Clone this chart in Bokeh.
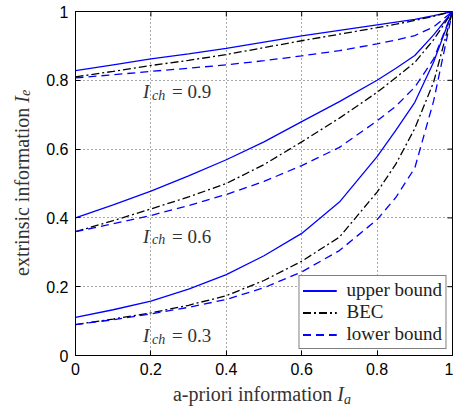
import math
from bokeh.plotting import figure
from bokeh.layouts import column, row
from bokeh.models import Range1d, Legend, LegendItem, FixedTicker, Div
from bokeh.core.properties import value
from bokeh.embed import file_html
from bokeh.resources import INLINE

# ---------------- data ----------------
x_apriori = [0, 0.1, 0.2, 0.3, 0.4, 0.5, 0.6, 0.7, 0.8, 0.85, 0.9, 0.95, 1.0]

upper_09 = [0.828, 0.845, 0.862, 0.877, 0.893, 0.911, 0.929, 0.945, 0.961, 0.969, 0.977, 0.988, 1.0]
bec_09   = [0.810, 0.826, 0.843, 0.858, 0.875, 0.895, 0.915, 0.934, 0.953, 0.963, 0.974, 0.986, 1.0]
lower_09 = [0.807, 0.816, 0.826, 0.835, 0.845, 0.857, 0.871, 0.886, 0.906, 0.917, 0.930, 0.955, 1.0]

upper_06 = [0.400, 0.438, 0.478, 0.522, 0.569, 0.621, 0.680, 0.738, 0.800, 0.835, 0.872, 0.932, 1.0]
bec_06   = [0.360, 0.392, 0.426, 0.461, 0.500, 0.555, 0.621, 0.690, 0.765, 0.808, 0.852, 0.918, 1.0]
lower_06 = [0.360, 0.383, 0.407, 0.436, 0.468, 0.506, 0.552, 0.605, 0.682, 0.725, 0.780, 0.862, 1.0]

upper_03 = [0.111, 0.133, 0.158, 0.193, 0.235, 0.290, 0.355, 0.446, 0.578, 0.655, 0.736, 0.853, 1.0]
bec_03   = [0.090, 0.106, 0.124, 0.146, 0.174, 0.218, 0.274, 0.344, 0.475, 0.557, 0.660, 0.795, 1.0]
lower_03 = [0.090, 0.104, 0.121, 0.140, 0.163, 0.197, 0.243, 0.305, 0.395, 0.460, 0.545, 0.740, 1.0]

ich_values = ["0.9", "0.6", "0.3"]
series_names = ["upper bound", "BEC", "lower bound"]

tick_values = [0, 0.2, 0.4, 0.6, 0.8, 1]
tick_labels = ["0", "0.2", "0.4", "0.6", "0.8", "1"]

x_label_main, x_label_sym, x_label_sub = "a-priori information", "I", "a"
y_label_main, y_label_sym, y_label_sub = "extrinsic information", "I", "e"

# ---------------- styling / layout ----------------
SERIF = "Liberation Serif"
SANS = "Liberation Sans"
BLUE = "#0000ff"
LW = 1.3
TXT = "#333333"

YLAB_W = 43          # width of the rotated y label strip
XLAB_H = 28          # height of the x label strip
FIG_W = 453 - YLAB_W
FIG_H = 407 - XLAB_H

p = figure(width=FIG_W, height=FIG_H, x_range=Range1d(0, 1), y_range=Range1d(0, 1),
           output_backend="svg", toolbar_location=None,
           min_border_left=72 - YLAB_W, min_border_right=1, min_border_top=11,
           min_border_bottom=FIG_H - 355)
p.background_fill_color = "white"
p.border_fill_color = "white"
p.outline_line_color = "black"
p.outline_line_width = 1

ticker = FixedTicker(ticks=tick_values)
overrides = dict(zip(tick_values, tick_labels))
for ax in (p.xaxis[0], p.yaxis[0]):
    ax.ticker = ticker
    ax.major_label_overrides = overrides
    ax.major_tick_in = 5
    ax.major_tick_out = 0
    ax.minor_tick_line_color = None
    ax.axis_line_color = "black"
    ax.major_tick_line_color = "black"
    ax.major_label_text_font = SANS
    ax.major_label_text_font_size = "16px"
    ax.major_label_text_color = "black"
    ax.major_label_standoff = 7

for g in (p.xgrid[0], p.ygrid[0]):
    g.ticker = ticker
    g.grid_line_color = "#555555"
    g.grid_line_dash = "1 3"
    g.grid_line_width = 1

# inward tick marks on the top and right edges of the box
n = len(tick_values)
p.ray(x=[1] * n, y=tick_values, length=5, length_units="screen", angle=math.pi,
      line_color="black", line_width=1)
p.ray(x=tick_values, y=[1] * n, length=5, length_units="screen", angle=-math.pi / 2,
      line_color="black", line_width=1)

# ---------------- curves ----------------
groups = [(upper_09, bec_09, lower_09), (upper_06, bec_06, lower_06),
          (upper_03, bec_03, lower_03)]
styles = [dict(line_color=BLUE, line_dash="solid"),
          dict(line_color="black", line_dash="8 3 2 3"),
          dict(line_color=BLUE, line_dash="8 5")]
renderers = [[], [], []]
for grp in groups:
    for i, ys in enumerate(grp):
        r = p.line(x_apriori, ys, line_width=LW, **styles[i])
        renderers[i].append(r)

legend = Legend(items=[LegendItem(label=series_names[i], renderers=renderers[i])
                       for i in range(3)],
                location="bottom_right")
legend.border_line_color = "black"
legend.border_line_width = 1
legend.background_fill_color = "white"
legend.background_fill_alpha = 1
legend.label_text_font = SERIF
legend.label_text_font_size = "19px"
legend.label_text_color = "#222222"
legend.glyph_width = 34
legend.glyph_height = 17
legend.label_height = 17
legend.label_standoff = 10
legend.spacing = 0
legend.padding = 3
legend.margin = 6
p.add_layout(legend)

# ---------------- I_ch annotations ----------------
ich_y = [0.767, 0.347, 0.057]
ich_x = [0.179] * 3
p.text(x=ich_x, y=ich_y, text=["I"] * 3, text_font=value(SERIF),
       text_font_style="italic", text_font_size="19px", text_color=TXT,
       text_baseline="alphabetic", text_align="left")
p.text(x=ich_x, y=[v - 0.011 for v in ich_y], text=["ch"] * 3, text_font=value(SERIF),
       text_font_style="italic", text_font_size="14px", text_color=TXT,
       text_baseline="alphabetic", text_align="left", x_offset=9)
p.text(x=ich_x, y=ich_y, text=["= " + v for v in ich_values], text_font=value(SERIF),
       text_font_size="19px", text_color=TXT,
       text_baseline="alphabetic", text_align="left", x_offset=29)

# ---------------- axis labels (HTML, italic symbol + subscript) ----------------
font_css = ("font-family:'Liberation Serif',serif;font-size:20px;color:%s;"
            "white-space:nowrap;" % TXT)
xsub_css = "font-size:14px;position:relative;top:3px;font-style:italic;"
ysub_css = "font-size:14px;position:relative;left:-4px;font-style:italic;"
xdiv = Div(text=('<div style="%s margin-left:72px;width:380px;text-align:center;'
                 'line-height:%dpx;position:relative;top:1px;">'
                 '%s <i>%s</i><span style="%s">%s</span></div>'
                 % (font_css, XLAB_H, x_label_main, x_label_sym, xsub_css, x_label_sub)),
           width=453, height=XLAB_H, margin=0)
ydiv = Div(text=('<div style="%s writing-mode:vertical-rl;transform:rotate(180deg);'
                 'margin-top:11px;height:344px;width:%dpx;line-height:%dpx;'
                 'text-align:center;">%s <i>%s</i><span style="%s">%s</span></div>'
                 % (font_css, YLAB_W, YLAB_W, y_label_main, y_label_sym,
                    ysub_css, y_label_sub)),
           width=YLAB_W, height=FIG_H, margin=0)

layout = column(row(ydiv, p, spacing=0), xdiv, spacing=0)

open("out.html", "w").write(file_html(layout, INLINE))
